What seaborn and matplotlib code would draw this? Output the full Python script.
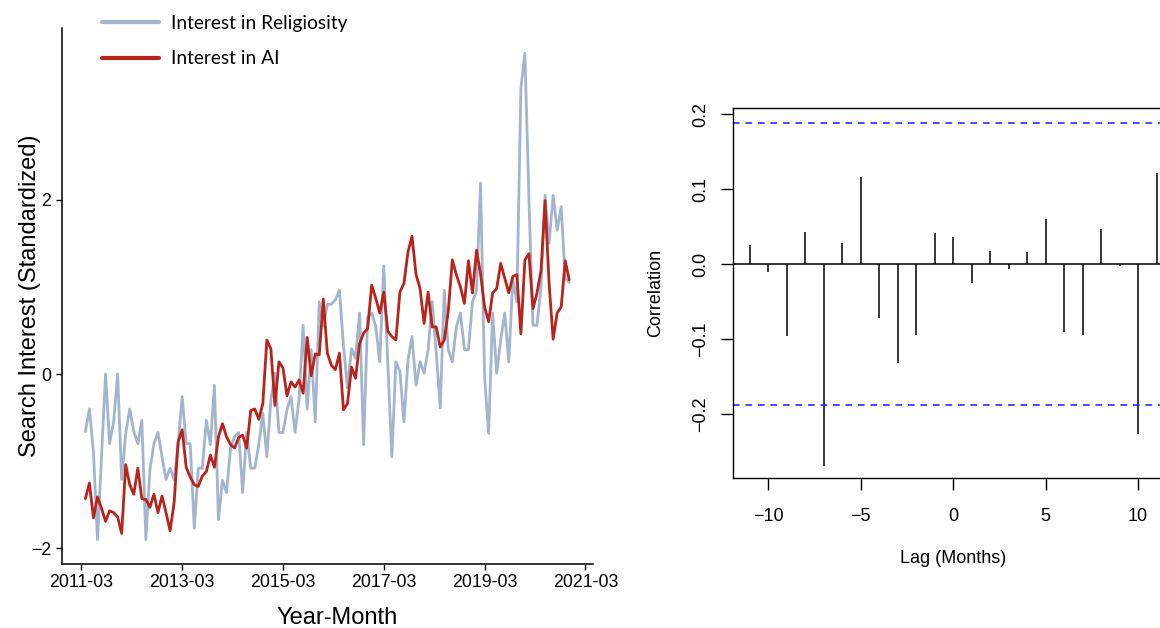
import numpy as np
import pandas as pd
import matplotlib
matplotlib.use("Agg")
import matplotlib.pyplot as plt
from matplotlib.lines import Line2D
import seaborn as sns

# Monthly standardized search interest (Google Trends style series)
religiosity = [
    -0.66, -0.40, -0.89, -1.90, -0.95, 0.00, -0.80, -0.55, 0.00, -1.21,
    -0.68, -0.40, -0.66, -0.80, -0.53, -1.90, -1.10, -0.80, -0.67, -0.95,
    -1.21, -1.08, -1.21, -0.80, -0.26, -0.80, -0.80, -1.77, -1.08, -1.08,
    -0.53, -0.81, -0.13, -1.67, -1.22, -1.36, -0.85, -0.72, -0.67, -1.36,
    -0.67, -1.08, -1.08, -0.81, -0.45, -0.95, -0.30, 0.01, -0.67, -0.67,
    -0.41, -0.26, -0.67, -0.28, 0.56, -0.40, 0.28, -0.55, 0.83, 0.55,
    0.80, 0.80, 0.85, 0.96, 0.33, -0.16, 0.29, 0.18, 0.70, -0.81,
    0.65, 0.70, 0.55, 0.14, 1.24, 0.12, -0.95, 0.14, 0.03, -0.55,
    0.16, 0.43, -0.13, 0.14, 0.01, 0.28, 0.83, 0.25, -0.39, 0.96,
    0.28, 0.14, 0.54, 0.70, 0.28, 0.28, 0.83, 0.96, 2.19, -0.03,
    -0.68, 0.70, 0.01, 0.39, 0.70, 0.14, 1.08, 0.83, 3.28, 3.68,
    2.00, 0.56, 0.56, 1.00, 2.05, 1.50, 2.05, 1.65, 1.92, 1.10,
    1.05,
]
ai_interest = [
    -1.43, -1.25, -1.65, -1.41, -1.54, -1.69, -1.57, -1.59, -1.64, -1.83,
    -1.04, -1.27, -1.38, -1.08, -1.43, -1.44, -1.53, -1.38, -1.59, -1.40,
    -1.59, -1.80, -1.48, -0.78, -0.64, -1.07, -1.18, -1.27, -1.29, -1.17,
    -1.12, -0.93, -1.07, -0.72, -0.57, -0.72, -0.81, -0.85, -0.73, -0.70,
    -0.85, -0.42, -0.40, -0.52, -0.34, 0.39, 0.29, -0.36, 0.14, 0.07,
    -0.25, -0.09, -0.15, -0.07, -0.22, 0.42, -0.02, 0.23, 0.22, 0.86,
    0.24, 0.10, 0.05, 0.24, -0.41, -0.34, 0.08, -0.05, 0.35, 0.47,
    0.52, 1.02, 0.87, 0.70, 0.94, 0.49, 0.43, 0.39, 0.94, 1.04,
    1.40, 1.58, 1.14, 0.98, 0.58, 0.94, 0.54, 0.54, 0.31, 0.39,
    0.72, 1.31, 1.14, 1.00, 0.81, 1.30, 0.93, 1.42, 1.15, 0.77,
    0.60, 0.93, 0.98, 1.27, 1.10, 0.93, 1.12, 1.14, 0.46, 1.31,
    1.38, 0.75, 0.93, 1.19, 1.99, 1.04, 0.40, 0.70, 0.77, 1.30,
    1.08,
]
series_names = ["Interest in Religiosity", "Interest in AI"]
series_colors = ["#a3b5cc", "#b8241b"]
date_tick_labels = ["2011-03", "2013-03", "2015-03", "2017-03", "2019-03", "2021-03"]
date_tick_index = [-1, 24, 49, 74, 99, 124]

# Cross-correlation between the two series by lag
lags = list(range(-11, 12))
ccf_values = [
    0.025, -0.010, -0.096, 0.043, -0.269, 0.028, 0.116, -0.072, -0.132, -0.095,
    0.042, 0.036, -0.025, 0.017, -0.006, 0.016, 0.060, -0.090, -0.094, 0.047,
    -0.003, -0.227, 0.121,
]
ci_bound = 0.1886

sns.set_style("ticks")
plt.rcParams["font.family"] = ["Liberation Sans", "DejaVu Sans"]
for key in ["text.color", "axes.labelcolor", "xtick.color", "ytick.color", "axes.edgecolor"]:
    plt.rcParams[key] = "black"

fig = plt.figure(figsize=(11.6, 6.28), dpi=100)
ax1 = fig.add_axes([0.05345, 0.1019, 0.4578, 0.8535])
ax2 = fig.add_axes([0.6322, 0.2384, 0.3789, 0.5891])

# ---- left panel: time series ----
month = np.arange(len(religiosity))
df = pd.DataFrame({
    "month": np.concatenate([month, month]),
    "value": np.array(religiosity + ai_interest),
    "series": [series_names[0]] * len(religiosity) + [series_names[1]] * len(ai_interest),
})
sns.lineplot(data=df, x="month", y="value", hue="series",
             palette=dict(zip(series_names, series_colors)),
             linewidth=2.0, ax=ax1, legend=False)

ax1.set_xlim(-5.8, 125.9)
ax1.set_ylim(-2.18, 3.97)
ax1.set_xticks(date_tick_index)
ax1.set_xticklabels(date_tick_labels)
ax1.set_yticks([-2, 0, 2])
ax1.tick_params(axis="both", labelsize=12.8, length=4.5, width=1.0, color="black",
                labelcolor="black")
ax1.tick_params(axis="x", pad=3)
ax1.tick_params(axis="y", pad=3.5)
for side in ["top", "right"]:
    ax1.spines[side].set_visible(False)
for side in ["left", "bottom"]:
    ax1.spines[side].set_linewidth(1.1)
    ax1.spines[side].set_color("black")
ax1.set_xlabel("Year-Month", fontsize=17)
ax1.set_ylabel("Search Interest (Standardized)", fontsize=17)
ax1.xaxis.set_label_coords(0.518, -0.080)
ax1.yaxis.set_label_coords(-0.040, 0.5)

handles = [Line2D([], [], color=c, linewidth=3.0) for c in series_colors]
fig.legend(handles, series_names, loc="upper left", bbox_to_anchor=(0.0877, 0.976),
           frameon=False, borderpad=0, borderaxespad=0, handlelength=3.0,
           handletextpad=0.6, labelspacing=0.95,
           prop={"family": ["Lato", "DejaVu Sans"], "size": 13.8})

# ---- right panel: cross-correlation ----
ax2.vlines(lags, 0, ccf_values, color="black", linewidth=1.1)
ax2.axhline(0, color="black", linewidth=1.1)
for b in (ci_bound, -ci_bound):
    ax2.axhline(b, color="#2b2bff", linewidth=1.2, linestyle=(0, (4, 3.5)))
ax2.set_xlim(-11.88, 11.88)
ax2.set_ylim(-0.2857, 0.2076)
ax2.set_xticks([-10, -5, 0, 5, 10])
ax2.set_yticks([-0.2, -0.1, 0.0, 0.1, 0.2])
ax2.set_yticklabels(["\u22120.2", "\u22120.1", "0.0", "0.1", "0.2"])
ax2.tick_params(axis="both", labelsize=13, length=8.3, width=1.0, color="black",
                labelcolor="black")
ax2.tick_params(axis="x", pad=13)
ax2.tick_params(axis="y", pad=9, labelrotation=90)
for lbl in ax2.get_yticklabels():
    lbl.set_verticalalignment("center")
for side in ax2.spines:
    ax2.spines[side].set_linewidth(1.0)
    ax2.spines[side].set_color("black")
ax2.set_xlabel("Lag (Months)", fontsize=13)
ax2.set_ylabel("Correlation", fontsize=13)
ax2.xaxis.set_label_coords(0.5, -0.194)
ax2.yaxis.set_label_coords(-0.158, 0.5)

fig.savefig("out.png", dpi=100)
